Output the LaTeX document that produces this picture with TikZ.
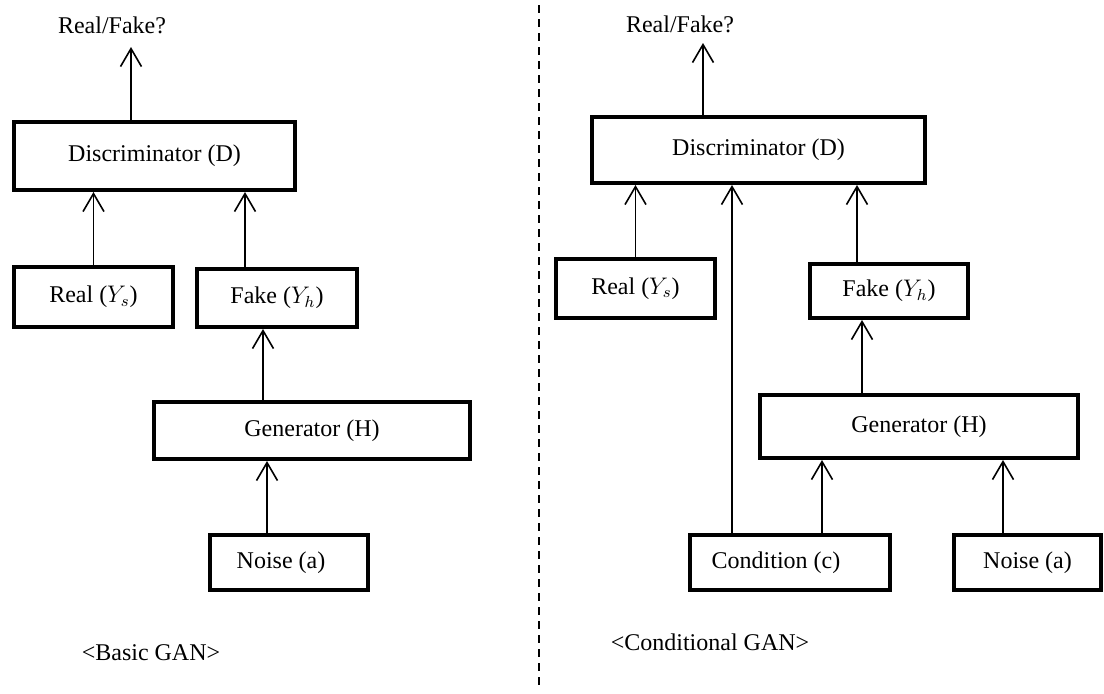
\documentclass[tikz,border=0pt]{standalone}
\usepackage{fontspec}
\setmainfont{Liberation Serif}
\usetikzlibrary{arrows.meta}

\begin{document}
\begin{tikzpicture}[x=0.5pt,y=-0.5pt,
boxnode/.style={rectangle, draw=black, line width=2pt, inner sep=0pt, font=\fontsize{12}{14}\selectfont},
textnode/.style={inner sep=0pt, font=\fontsize{12}{14}\selectfont},
arrline/.style={-{Straight Barb[length=9pt,width=10.5pt]}, line width=0.8pt}
]
    \useasboundingbox (0,0) rectangle (1104,693);

    % basic GAN
    \node [textnode] (rf1) at (112,25) {Real/Fake?};
    \coordinate (out1) at (131,47);
    \node [boxnode, minimum width=140.5pt, minimum height=34pt] (d1) at (154.5,156) {Discriminator (D)};

    \node [boxnode, minimum width=79.5pt, minimum height=30pt] (real1) at (93.5,297) {Real ($Y_s$)};
    \node [boxnode, minimum width=80pt, minimum height=29pt] (fake1) at (277,298) {Fake ($Y_h$)};

    \node [boxnode, minimum width=158pt, minimum height=28.5pt] (gen1) at (312,430.5) {Generator (H)};
    \node [boxnode, minimum width=79pt, minimum height=27.5pt] (noise1) at (289,562.5) {Noise (a)\hspace*{8pt}};

    \node [textnode] (lbl1) at (151,653) {<Basic GAN>};

    \draw [arrline] (d1.north -| out1) -- (out1);
    \draw [arrline] (real1.north) -- (real1.north |- d1.south);
    \draw [arrline] (fake1.north -| 245,0) -- (d1.south -| 245,0);
    \draw [arrline] (gen1.north -| 263,0) -- (fake1.south -| 263,0);
    \draw [arrline] (noise1.north -| 267,0) -- (gen1.south -| 267,0);

    % divider
    \draw [line width=0.7pt, dash pattern=on 4pt off 3pt] (539,5) -- (539,690);

    % conditional GAN
    \node [textnode] (rf2) at (680,24) {Real/Fake?};
    \coordinate (out2) at (703,43);
    \node [boxnode, minimum width=166.5pt, minimum height=33pt] (d2) at (758.5,150) {Discriminator (D)};

    \node [boxnode, minimum width=79.5pt, minimum height=29.5pt] (real2) at (635.5,288.5) {Real ($Y_s$)};
    \node [boxnode, minimum width=79pt, minimum height=27pt] (fake2) at (889,291) {Fake ($Y_h$)};

    \node [boxnode, minimum width=159pt, minimum height=31.5pt] (gen2) at (919,426.5) {Generator (H)};
    \node [boxnode, minimum width=100pt, minimum height=27.5pt] (cond2) at (790,562.5) {Condition (c)\hspace*{14pt}};
    \node [boxnode, minimum width=73.5pt, minimum height=27.5pt] (noise2) at (1027.5,562.5) {Noise (a)};

    \node [textnode] (lbl2) at (710,642) {<Conditional GAN>};

    \draw [arrline] (d2.north -| out2) -- (out2);
    \draw [arrline] (real2.north) -- (real2.north |- d2.south);
    \draw [arrline] (cond2.north -| 732,0) -- (d2.south -| 732,0);
    \draw [arrline] (fake2.north -| 857,0) -- (d2.south -| 857,0);
    \draw [arrline] (gen2.north -| 862,0) -- (fake2.south -| 862,0);
    \draw [arrline] (cond2.north -| 822,0) -- (gen2.south -| 822,0);
    \draw [arrline] (noise2.north -| 1003,0) -- (gen2.south -| 1003,0);
\end{tikzpicture}
\end{document}
